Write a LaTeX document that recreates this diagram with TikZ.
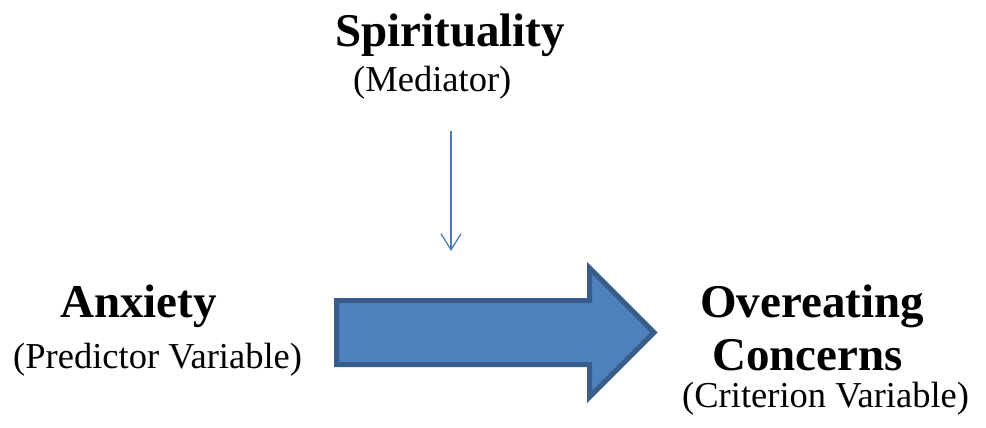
\documentclass[tikz,border=0pt]{standalone}
\usepackage{fontspec}
\setmainfont{Liberation Serif}
\usepackage{tikz}
\definecolor{arrowblue}{RGB}{79,129,189}
\definecolor{arrowedge}{RGB}{56,93,138}
\definecolor{lineblue}{RGB}{74,126,187}
\usetikzlibrary{arrows.meta}

\begin{document}
\begin{tikzpicture}[
  x=1pt, y=-1pt,
  every node/.style={inner sep=0pt, anchor=base west},
  var name/.style={font=\fontsize{47}{50}\selectfont\bfseries},
  var role/.style={font=\fontsize{36.5}{40}\selectfont},
  block arrow/.style={fill=arrowblue, draw=arrowedge, line width=5pt, line join=miter},
  thin arrow/.style={-{Straight Barb[length=16pt, width=20pt]}, lineblue, line width=1.3pt},
]
  \useasboundingbox (0,0) rectangle (986,428);

  % mediator
  \node[var name] (spir) at (335,47) {Spirituality};
  \node[var role] (med) at (353,92) {(Mediator)};

  % predictor
  \node[var name] (anx) at (60,317) {Anxiety};
  \node[var role] (pred) at (13,368) {(Predictor Variable)};

  % criterion
  \node[var name] (over) at (700,317) {Overeating};
  \node[var name] (conc) at (712,370) {Concerns};
  \node[var role] (crit) at (682,407) {(Criterion Variable)};

  % main effect
  \draw[block arrow] (336.5,300.5) -- (589.5,300.5) -- (589.5,268)
    -- (654,332.5) -- (589.5,397) -- (589.5,364.5) -- (336.5,364.5) -- cycle;

  % mediator link
  \coordinate (medtop) at (451,131);
  \coordinate (medend) at (451,251);
  \draw[thin arrow] (medtop) -- (medend);
\end{tikzpicture}
\end{document}
